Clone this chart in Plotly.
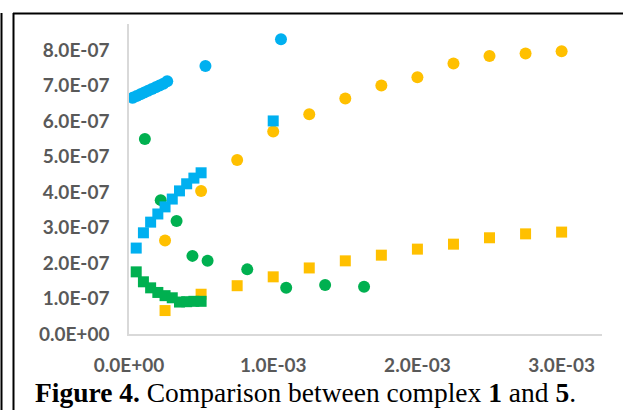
import plotly.graph_objects as go

# ---------------- data ----------------
blue_circle_x = [2.65e-5, 5.3e-5, 7.95e-5, 1.06e-4, 1.325e-4, 1.59e-4, 1.855e-4, 2.12e-4, 2.385e-4, 2.65e-4, 5.3e-4, 1.054e-3]
blue_circle_y = [6.65e-7, 6.70e-7, 6.75e-7, 6.80e-7, 6.85e-7, 6.90e-7, 6.95e-7, 7.00e-7, 7.05e-7, 7.12e-7, 7.55e-7, 8.30e-7]

blue_square_x = [5e-5, 1e-4, 1.5e-4, 2e-4, 2.5e-4, 3e-4, 3.5e-4, 4e-4, 4.5e-4, 5e-4, 1e-3]
blue_square_y = [2.42e-7, 2.85e-7, 3.15e-7, 3.38e-7, 3.58e-7, 3.80e-7, 4.03e-7, 4.23e-7, 4.39e-7, 4.54e-7, 6.0e-7]

green_circle_x = [1.1e-4, 2.2e-4, 3.3e-4, 4.4e-4, 5.45e-4, 8.2e-4, 1.09e-3, 1.36e-3, 1.63e-3]
green_circle_y = [5.49e-7, 3.77e-7, 3.18e-7, 2.20e-7, 2.06e-7, 1.82e-7, 1.30e-7, 1.38e-7, 1.33e-7]

green_square_x = [5e-5, 1e-4, 1.5e-4, 2e-4, 2.5e-4, 3e-4, 3.5e-4, 4e-4, 4.5e-4, 5e-4]
green_square_y = [1.75e-7, 1.47e-7, 1.30e-7, 1.17e-7, 1.08e-7, 1.02e-7, 0.90e-7, 0.91e-7, 0.92e-7, 0.92e-7]

yellow_circle_x = [2.5e-4, 5e-4, 7.5e-4, 1e-3, 1.25e-3, 1.5e-3, 1.75e-3, 2e-3, 2.25e-3, 2.5e-3, 2.75e-3, 3e-3]
yellow_circle_y = [2.63e-7, 4.03e-7, 4.90e-7, 5.70e-7, 6.19e-7, 6.63e-7, 7.00e-7, 7.23e-7, 7.62e-7, 7.83e-7, 7.90e-7, 7.96e-7]

yellow_square_x = [2.5e-4, 5e-4, 7.5e-4, 1e-3, 1.25e-3, 1.5e-3, 1.75e-3, 2e-3, 2.25e-3, 2.5e-3, 2.75e-3, 3e-3]
yellow_square_y = [0.66e-7, 1.12e-7, 1.36e-7, 1.61e-7, 1.86e-7, 2.06e-7, 2.22e-7, 2.39e-7, 2.53e-7, 2.71e-7, 2.82e-7, 2.87e-7]

x_tick_vals = [0, 1e-3, 2e-3, 3e-3]
x_tick_text = ["0.0E+00", "1.0E-03", "2.0E-03", "3.0E-03"]
y_tick_vals = [0, 1e-7, 2e-7, 3e-7, 4e-7, 5e-7, 6e-7, 7e-7, 8e-7]
y_tick_text = ["0.0E+00", "1.0E-07", "2.0E-07", "3.0E-07", "4.0E-07",
               "5.0E-07", "6.0E-07", "7.0E-07", "8.0E-07"]

caption = "<b>Figure 4.</b> Comparison between complex <b>1</b> and <b>5</b>."

BLUE = "#00B0F0"
GREEN = "#00B050"
YELLOW = "#FFC000"

# ---------------- figure ----------------
W, H = 623, 410
ML, MR, MT, MB = 129, 21, 24, 76
PW, PH = W - ML - MR, H - MT - MB


def px(x):
    return (x - ML) / PW


def py(y):
    return (H - MB - y) / PH


fig = go.Figure()


def add(xs, ys, color, symbol, size):
    fig.add_trace(go.Scatter(
        x=xs, y=ys, mode="markers",
        marker=dict(color=color, symbol=symbol, size=size, line=dict(width=0)),
        showlegend=False, hoverinfo="x+y"))


add(yellow_circle_x, yellow_circle_y, YELLOW, "circle", 12)
add(yellow_square_x, yellow_square_y, YELLOW, "square", 11)
add(green_circle_x, green_circle_y, GREEN, "circle", 12)
add(blue_circle_x, blue_circle_y, BLUE, "circle", 12)
add(blue_square_x, blue_square_y, BLUE, "square", 11)
add(green_square_x, green_square_y, GREEN, "square", 11)

tick_font = dict(family="Lato", size=19, color="#595959", weight="bold")

fig.update_xaxes(
    range=[0, 3.28e-3], tickvals=x_tick_vals, ticktext=x_tick_text,
    showgrid=False, zeroline=False, showline=True, linecolor="#D9D9D9",
    linewidth=1.5, ticks="", tickfont=tick_font, ticklabelstandoff=13,
    automargin=False)
fig.update_yaxes(
    range=[0, 8.73e-7], tickvals=y_tick_vals, ticktext=y_tick_text,
    showgrid=False, zeroline=False, showline=True, linecolor="#D9D9D9",
    linewidth=1.5, ticks="", tickfont=tick_font, ticklabelstandoff=14,
    automargin=False)

# frame lines of the figure box
frame = dict(type="line", xref="paper", yref="paper",
             line=dict(color="black", width=2))
fig.add_shape(**frame, x0=px(1.5), x1=px(1.5), y0=py(13), y1=py(H))
fig.add_shape(**frame, x0=px(13.5), x1=px(13.5), y0=py(13), y1=py(H))
fig.add_shape(**frame, x0=px(13), x1=px(W), y0=py(13.5), y1=py(13.5))

fig.add_annotation(
    text=caption, xref="paper", yref="paper",
    x=px(33), y=py(392), xanchor="left", yanchor="middle", showarrow=False,
    font=dict(family="Liberation Serif", size=27.5, color="black"))

fig.update_layout(
    width=W, height=H, margin=dict(l=ML, r=MR, t=MT, b=MB, autoexpand=False),
    paper_bgcolor="white", plot_bgcolor="white")

fig.write_html("out.html",
               config={"displayModeBar": False},
               post_script="document.body.style.margin='0px';"
                           "document.body.style.overflow='hidden';")
